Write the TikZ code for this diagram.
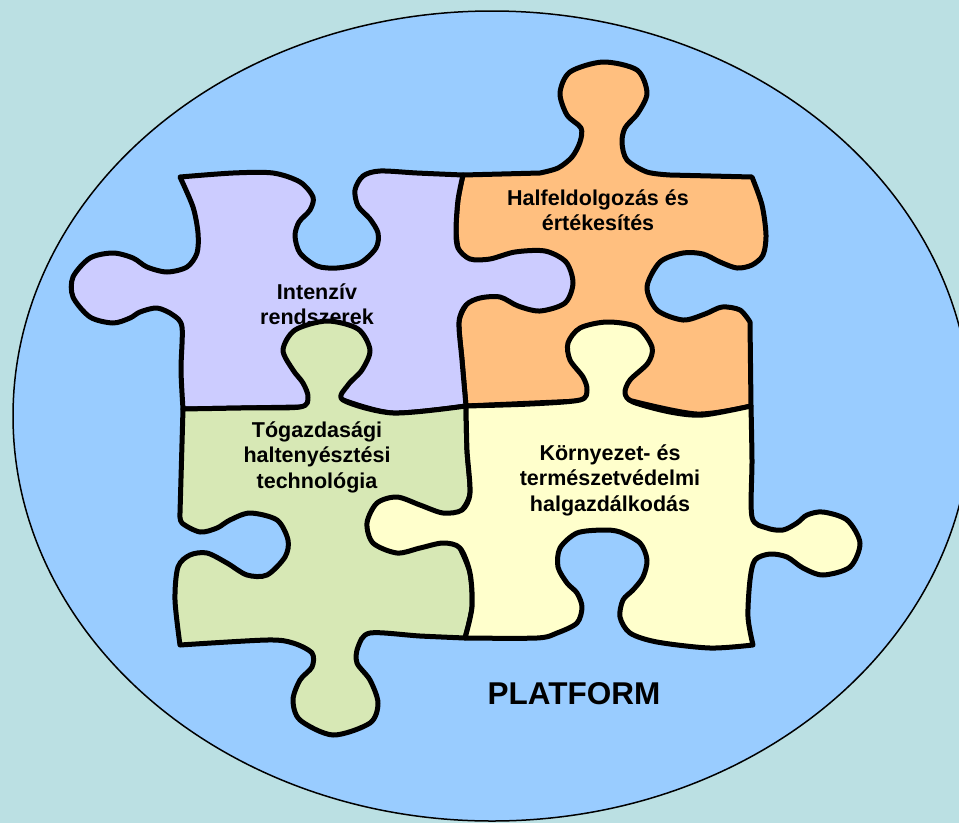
\documentclass[tikz,border=0pt]{standalone}
\usepackage{fontspec}
\setmainfont{Liberation Sans}
\definecolor{bgteal}{HTML}{BBE0E3}
\definecolor{platblue}{HTML}{99CCFF}
\definecolor{lilac}{HTML}{CCCCFF}
\definecolor{apricot}{HTML}{FFBF7F}
\definecolor{sage}{HTML}{D7E8B5}
\definecolor{cream}{HTML}{FFFFCC}
\tikzset{
  piece/.style={draw=black,line width=5pt,line join=round},
  lbl/.style={font=\bfseries\fontsize{21.5}{25.5}\selectfont,align=center}
}
\begin{document}
\begin{tikzpicture}[x=1pt,y=-1pt]
  \fill[bgteal] (0,0) rectangle (959,823);
  \useasboundingbox (0,0) rectangle (959,823);
  \clip (0,0) rectangle (959,823);
  \draw[fill=platblue,line width=1.5pt] (492,416) ellipse[x radius=479pt,y radius=405pt];
  % orange piece
  \draw[piece,fill=apricot] (463,175) -- (540,173)
    -- plot[smooth] coordinates {(540,173) (558,168) (572,157) (580,142) (581,128) (567,115) (560,93) (570,72) (603,62) (637,70) (647,93) (638,113) (625,128) (622,143) (627,160) (647,172) (670,175)}
    -- (752,177)
    -- plot[smooth] coordinates {(752,177) (762,205) (766,235) (763,255) (752,265) (737,268) (720,262) (703,254) (683,253) (660,262) (647,287) (657,310) (683,320) (705,314) (722,307) (740,310) (750,322)}
    -- (751,406)
    -- plot[smooth] coordinates {(751,406) (697,414) (632,401)}
    -- (580,401) -- (466,406)
    -- plot[smooth] coordinates {(466,406) (462,360) (459,322) (466,305)}
    -- (458,248)
    -- plot[smooth] coordinates {(458,248) (456,230) (458,200) (463,175)}
    -- cycle;
  \node[lbl] (halfeld) at (598,210) {Halfeldolgozás és\\értékesítés};
  % lilac piece
  \draw[piece,fill=lilac] plot[smooth] coordinates {(180,177) (233,173) (273,173) (300,182) (313,197) (310,210) (299,222) (295,236) (300,253) (317,266) (337,268) (360,263) (376,248) (378,233) (370,219) (358,206) (355,190) (363,176) (380,171) (417,173) (463,175)}
    -- plot[smooth] coordinates {(463,175) (458,200) (456,230) (458,248) (470,259) (490,259) (515,252) (545,251) (566,262) (573,283) (565,303) (540,311) (518,306) (500,297) (480,298) (466,305) (459,322) (462,360) (466,406)}
    -- plot[smooth] coordinates {(466,406) (393,413) (343,400)}
    -- (300,407) -- (183,409)
    -- plot[smooth] coordinates {(183,409) (181,370) (182,327) (173,315) (157,308) (140,312) (130,318) (113,323) (90,317) (73,297) (73,277) (90,258) (113,253) (133,258) (147,267) (167,272) (187,267) (197,253) (198,233) (193,207) (180,177)}
    -- cycle;
  \node[lbl] (intenziv) at (317,304) {Intenzív\\rendszerek};
  % green piece
  \draw[piece,fill=sage] plot[smooth] coordinates {(183,409) (240,408) (300,407) (308,397) (303,383) (293,370) (283,350) (295,330) (327,321) (358,329) (370,350) (362,370) (348,385) (343,400) (393,413) (466,406)}
    -- plot[smooth] coordinates {(466,406) (467,450) (470,493) (462,510)}
    -- (460,548)
    -- plot[smooth] coordinates {(460,548) (470,573) (472,607) (465,638)}
    -- plot[smooth] coordinates {(465,638) (420,636) (370,633) (358,647) (357,663) (370,680) (378,703) (370,723) (333,735) (300,720) (293,700) (300,680) (312,667) (312,653) (293,643) (267,640) (180,645)}
    -- plot[smooth] coordinates {(180,645) (175,600) (178,567) (190,555) (207,553) (227,563) (247,575) (267,575) (285,557) (288,540) (277,520) (250,513) (230,520) (217,528) (200,532) (182,523) (180,513)}
    -- cycle;
  \node[lbl] (togazd) at (317,457) {Tógazdasági\\haltenyésztési\\technológia};
  % cream piece
  \draw[piece,fill=cream] plot[smooth] coordinates {(466,406) (530,404) (580,400) (587,390) (583,377) (570,360) (568,343) (580,328) (607,322) (637,327) (652,347) (648,363) (630,380) (625,393) (633,402) (670,412) (703,415) (751,406)}
    -- plot[smooth] coordinates {(751,406) (752,460) (752,517) (767,528) (783,530) (797,523) (807,515) (823,512) (847,520) (860,543) (850,567) (823,575) (803,568) (787,557) (770,554) (755,560) (750,580) (748,617) (753,645)}
    -- plot[smooth] coordinates {(753,645) (710,648) (657,642) (630,633) (620,617) (623,600) (633,590) (643,577) (647,560) (640,543) (620,532) (603,530) (577,533) (560,548) (558,567) (567,583) (577,593) (582,607) (577,623) (557,633) (537,638) (465,638)}
    -- plot[smooth] coordinates {(465,638) (472,607) (470,573) (460,548) (443,543) (420,548) (397,553) (373,543) (367,523) (377,503) (397,497) (420,505) (443,513) (462,510) (470,493) (467,450) (466,406)}
    -- cycle;
  \node[lbl] (kornyezet) at (610,480) {Környezet- és\\természetvédelmi\\halgazdálkodás};
  \node[font=\bfseries\fontsize{31.5}{36}\selectfont,anchor=base] (platform) at (574,704) {PLATFORM};
\end{tikzpicture}
\end{document}
